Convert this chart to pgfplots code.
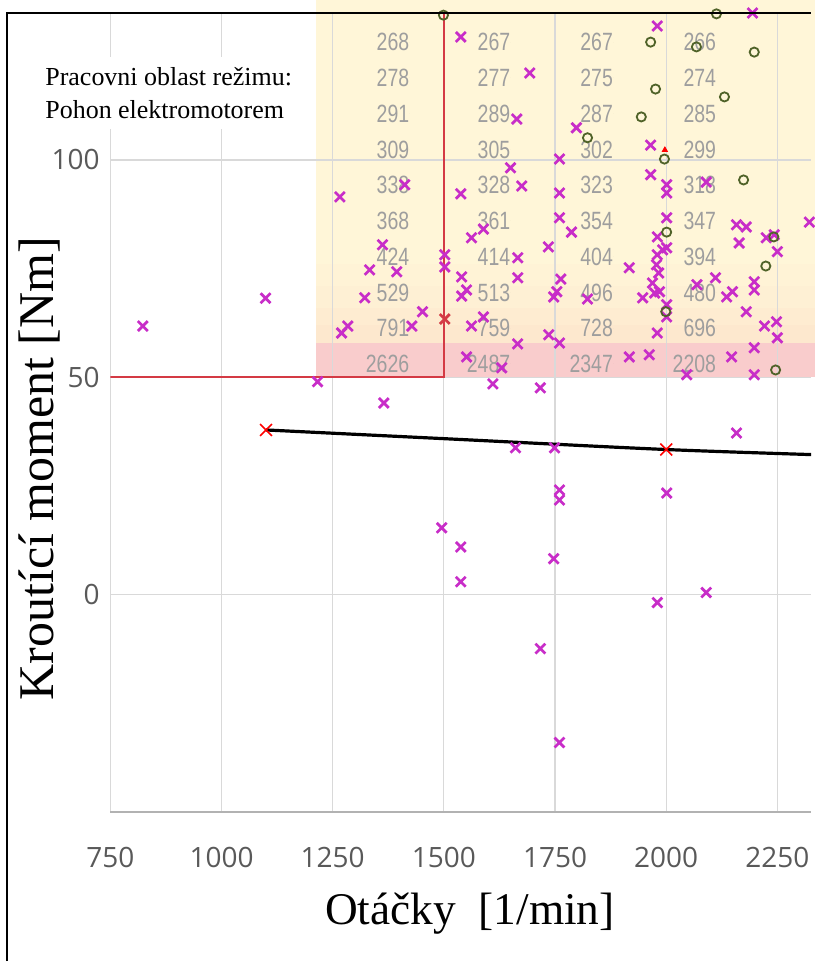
\documentclass[border=0pt]{standalone}
\usepackage{fontspec}
\setmainfont{Liberation Serif}
\newfontfamily\tickfont{Open Sans}
\newfontfamily\narrowfont[FakeStretch=0.78]{Liberation Sans}
\usepackage{pgfplots}
\usepackage{pgfplotstable}
\pgfplotsset{compat=1.18}
\definecolor{magx}{RGB}{200,45,200}
\definecolor{olivec}{RGB}{79,98,40}
\definecolor{redline}{RGB}{212,58,68}
\definecolor{ytop}{RGB}{255,246,216}
\definecolor{yb1}{RGB}{253,232,206}
\definecolor{yb2}{RGB}{254,236,209}
\definecolor{yb3}{RGB}{254,240,212}
\definecolor{yb4}{RGB}{255,243,214}
\definecolor{pinkb}{RGB}{249,204,204}
\definecolor{numgray}{RGB}{158,158,158}
\definecolor{tickgray}{RGB}{89,89,89}
\definecolor{gridc}{RGB}{217,217,217}

\pgfplotstableread{
x y
823 61.8
1099 68.2
1216 49.0
1365 44.1
1266 91.5
1412 94.3
1362 80.5
1333 74.7
1394 74.3
1322 68.3
1452 65.1
1428 61.8
1284 61.8
1270 60.2
1502 78.2
1502 75.4
1538 128.3
1693 120.0
1664 109.4
1798 107.4
1980 130.8
1965 103.4
1760 100.2
1650 98.2
1538 92.2
1675 94.0
1760 92.4
1965 96.6
2001 94.3
2001 92.4
2090 94.9
1760 86.7
1787 83.4
1589 84.1
1562 82.1
1735 80.0
2001 86.7
1980 82.3
2158 85.1
2180 84.6
2164 80.9
2225 82.1
2243 82.8
2250 78.9
2322 85.7
1666 77.5
1992 79.3
2001 79.8
1540 73.1
1551 70.1
1540 68.7
1562 61.8
1589 63.9
1666 72.9
1666 57.7
1551 54.7
1630 52.2
1610 48.5
1717 47.6
1763 72.6
1754 69.7
1747 68.5
1736 59.8
1760 57.9
1823 68.0
1917 75.2
1917 54.7
1962 55.2
1947 68.3
1980 78.2
1978 75.9
1983 74.0
1969 71.7
1985 69.7
1974 69.4
2001 66.7
2001 63.9
1980 60.2
2046 50.6
2069 71.3
2111 72.9
2136 68.5
2149 69.7
2147 54.7
2180 65.1
2198 72.0
2198 70.1
2198 56.8
2198 50.6
2221 61.8
2248 62.8
2250 59.1
2158 37.2
1661 33.8
1749 33.8
1760 24.1
1760 21.8
2001 23.4
1495 15.4
1538 11.0
1747 8.3
1538 3.0
1980 -1.8
2090 0.5
1717 -12.4
1760 -34.0
2194 133.8
}\magdata

\pgfplotstableread{
x y
1499 133.3
2113 133.6
1965 127.1
2068 126.0
2198 124.8
1976 116.3
2131 114.5
1944 109.9
1823 105.1
1996 100.2
2174 95.4
2001 83.4
2224 75.6
2246 51.7
2242 82.3
1999 65.1
}\circdata

\pgfplotstableread{
x y v
1423 135.3 260
1423 127.1 268
1423 118.9 278
1423 110.7 291
1423 102.4 309
1423 94.2 338
1423 86.0 368
1423 77.8 424
1423 69.5 529
1423 61.3 791
1423 53.1 2626
1650 135.3 259
1650 127.1 267
1650 118.9 277
1650 110.7 289
1650 102.4 305
1650 94.2 328
1650 86.0 361
1650 77.8 414
1650 69.5 513
1650 61.3 759
1650 53.1 2487
1881 135.3 260
1881 127.1 267
1881 118.9 275
1881 110.7 287
1881 102.4 302
1881 94.2 323
1881 86.0 354
1881 77.8 404
1881 69.5 496
1881 61.3 728
1881 53.1 2347
2113 135.3 259
2113 127.1 266
2113 118.9 274
2113 110.7 285
2113 102.4 299
2113 94.2 318
2113 86.0 347
2113 77.8 394
2113 69.5 480
2113 61.3 696
2113 53.1 2208
2344 135.3 258
2344 127.1 265
2344 118.9 273
2344 110.7 283
2344 102.4 296
2344 94.2 314
2344 86.0 341
2344 77.8 384
2344 69.5 464
2344 61.3 665
2344 53.1 2075
}\tabnums

\begin{document}
\begin{tikzpicture}
\path (-55.25pt,-74.5pt) rectangle (350.75pt,406.5pt);
\begin{axis}[
  set layers,
  scale only axis,
  width=350.75pt, height=400pt,
  at={(0pt,0pt)}, anchor=south west,
  xmin=750, xmax=2326, ymin=-50, ymax=133.8,
  xtick={750,1000,1250,1500,1750,2000,2250},
  ytick={0,50,100},
  extra y ticks={-50}, extra y tick labels={},
  extra y tick style={grid style={draw=black!30, line width=0.8pt}},
  grid=major,
  grid style={draw=gridc, line width=0.6pt},
  axis line style={draw=none},
  major tick length=0pt,
  tick style={draw=none},
  /pgf/number format/assume math mode=true,
  /pgf/number format/set thousands separator={},
  ticklabel style={font=\tickfont\fontsize{14}{16}\selectfont, text=tickgray},
  xticklabel style={anchor=center, inner sep=0pt, yshift=-22.5pt},
  yticklabel style={anchor=east, inner sep=0pt, xshift=-5.25pt},
  xlabel={Otáčky\hspace{0.5em}[1/min]},
  xlabel style={at={(axis description cs:0.513,-0.1275)}, anchor=center, font=\fontsize{22.7}{26}\selectfont},
  ylabel={Kroutící moment [Nm]},
  ylabel style={at={(axis description cs:-0.1005,0.43)}, anchor=center, font=\fontsize{25}{28}\selectfont},
]
% shaded regions
\addplot[draw=none, fill=pinkb, on layer=axis background] coordinates {(1212,50) (2400,50) (2400,57.9) (1212,57.9)} -- cycle;
\addplot[draw=none, fill=ytop, on layer=axis background] coordinates {(1212,57.9) (2400,57.9) (2400,140) (1212,140)} -- cycle;
\addplot[draw=none, fill=yb4, on layer=axis background] coordinates {(1212,57.9) (2400,57.9) (2400,76) (1212,76)} -- cycle;
\addplot[draw=none, fill=yb3, on layer=axis background] coordinates {(1212,57.9) (2400,57.9) (2400,71) (1212,71)} -- cycle;
\addplot[draw=none, fill=yb2, on layer=axis background] coordinates {(1212,57.9) (2400,57.9) (2400,66) (1212,66)} -- cycle;
\addplot[draw=none, fill=yb1, on layer=axis background] coordinates {(1212,57.9) (2400,57.9) (2400,62) (1212,62)} -- cycle;
% table numbers
\addplot[only marks, mark=*, mark size=0pt, mark options={draw=none, fill=none},
  nodes near coords, point meta=explicit symbolic,
  every node near coord/.append style={anchor=east, inner sep=0pt, font=\narrowfont\fontsize{12.5}{14}\selectfont, text=numgray}]
  table[meta=v] {\tabnums};
% red boundary
\addplot[redline, line width=1pt] coordinates {(750,50) (1500,50) (1500,140)};
% black curve
\addplot[black, line width=1.6pt, smooth] coordinates {(1100,37.9) (1500,35.9) (2000,33.4) (2400,32.0)};
% scatter
\addplot[only marks, mark=x, mark size=3.5pt, magx, mark options={line width=1.35pt}] table {\magdata};
\addplot[only marks, mark=x, mark size=3.5pt, redline, mark options={line width=1.35pt}] coordinates {(1502,63.4)};
\addplot[only marks, mark=o, mark size=2.3pt, olivec, mark options={line width=0.9pt}] table {\circdata};
\addplot[only marks, mark=x, mark size=4.2pt, red, mark options={line width=0.8pt}] coordinates {(1100,37.9) (2000,33.4)};
\addplot[only marks, mark=triangle*, mark size=1.5pt, red] coordinates {(1997,102.3)};
\end{axis}
\node[fill=white, align=left, anchor=north west, inner xsep=4pt, inner ysep=5pt, font=\fontsize{13}{16.5}\selectfont] at (-36.75pt,378pt) {Pracovni oblast režimu:\\Pohon elektromotorem};
\draw[black, line width=1pt] (-51.75pt,-74.5pt) -- (-51.75pt,400pt) -- (350.75pt,400pt);
\end{tikzpicture}
\end{document}
